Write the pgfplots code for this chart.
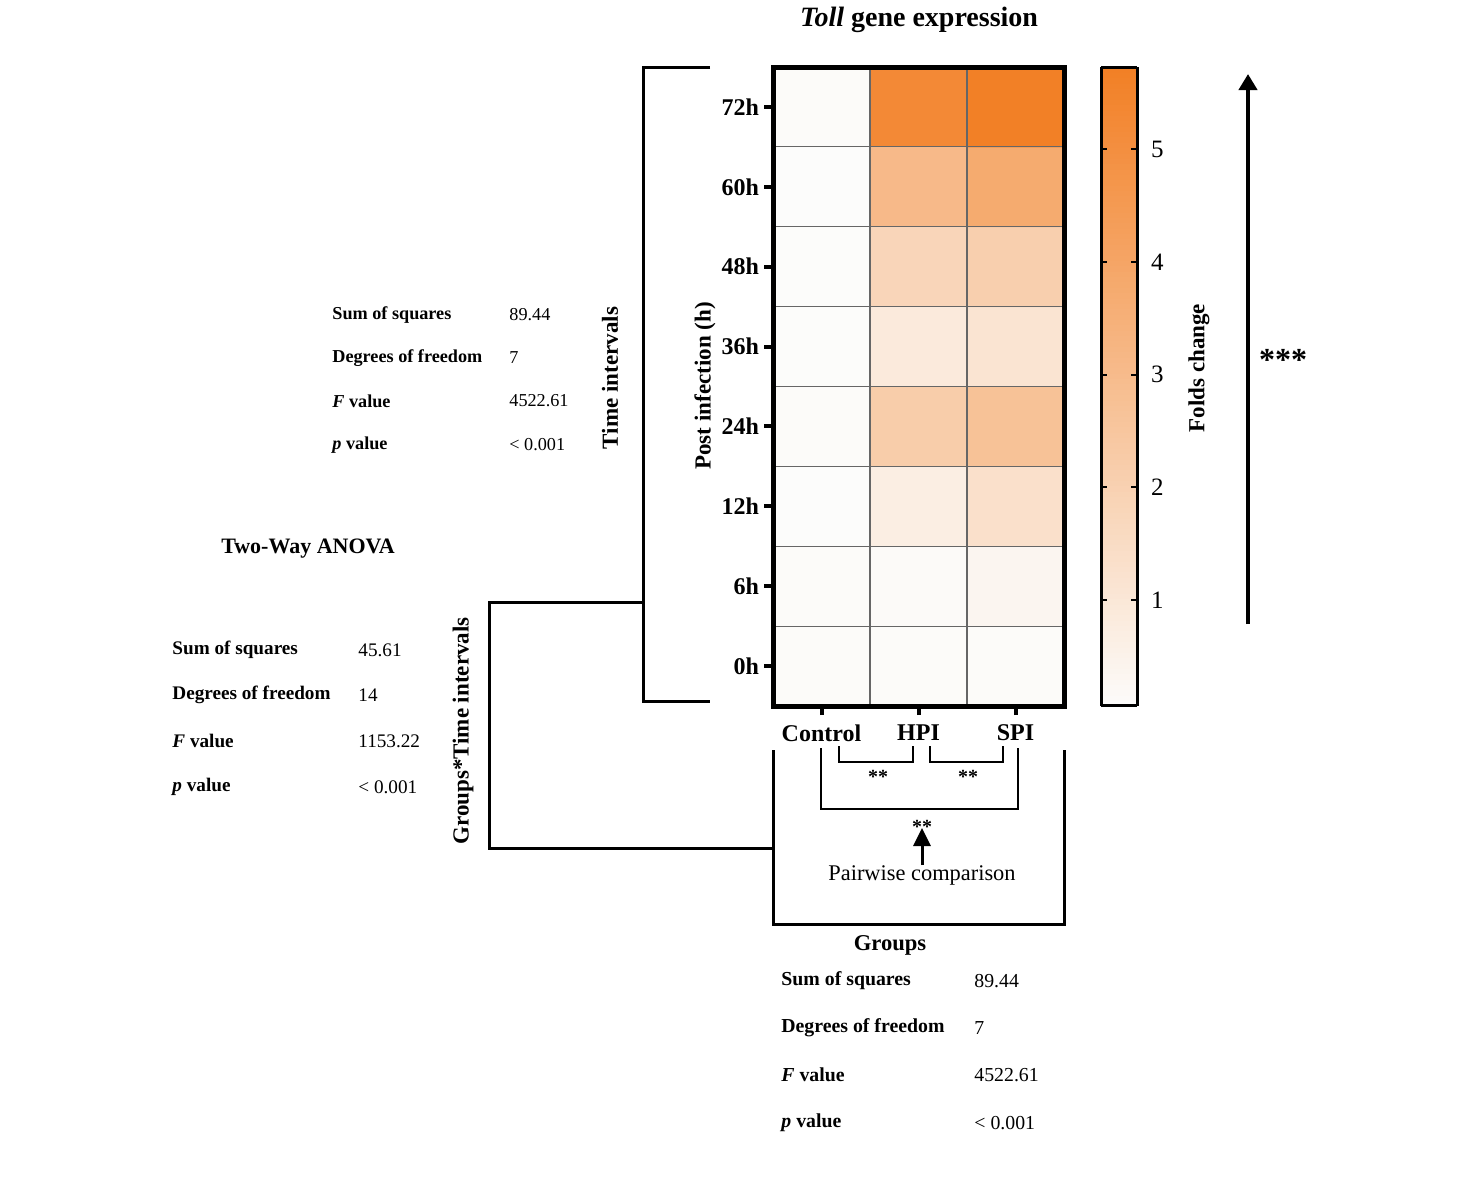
\documentclass[border=0pt]{standalone}
\usepackage{pgfplots}
\pgfplotsset{compat=1.18}
\usepackage{fontspec}
\setmainfont{Liberation Serif}
\usetikzlibrary{arrows.meta}
\newcommand{\fs}[1]{\fontsize{#1}{#1}\selectfont}
\begin{document}
\begin{tikzpicture}
\useasboundingbox (0,0) rectangle (736.5pt,-591.5pt);
\begin{axis}[
  at={(386.5pt,-353pt)}, anchor=south west,
  scale only axis, width=145.5pt, height=319.5pt,
  xmin=-0.5, xmax=2.5, ymin=-0.5, ymax=7.5,
  xtick={0,1,2}, xticklabels={Control,HPI,SPI},
  ytick={0,...,7}, yticklabels={0h,6h,12h,24h,36h,48h,60h,72h},
  ticklabel style={font=\fs{12}\bfseries},
  xticklabel style={yshift=-1.5pt},
  yticklabel style={xshift=1pt},
  tick align=outside, xtick pos=left, ytick pos=left,
  major tick length=4.5pt,
  every tick/.style={line width=2pt, black},
  axis line style={line width=2.5pt},
  minor xtick={0.5,1.5}, minor ytick={0.5,1.5,...,6.5},
  minor tick length=0pt,
  minor grid style={draw=black!60, line width=0.6pt},
  xminorgrids, yminorgrids,
  axis on top,
  colormap={or}{rgb255=(252,252,251) rgb255=(242,128,38)},
  point meta min=0.06, point meta max=5.73,
  colorbar sampled,
  colorbar style={
    at={(parent axis.north east)}, anchor=north west, xshift=10pt,
    width=18pt, samples=120,
    ytick={1,2,3,4,5},
    yticklabel style={font=\fs{12.5}, /pgf/number format/assume math mode=true, xshift=3.5pt},
    tick align=inside, ytick pos=both, yticklabel pos=right,
    major tick length=3pt,
    every tick/.style={line width=1pt,black},
    axis line style={line width=1.5pt},
  },
]
\addplot[matrix plot*, mesh/cols=3, point meta=explicit] table[meta=c]{
x y c
0 0 0.10
1 0 0.10
2 0 0.10
0 1 0.10
1 1 0.13
2 1 0.36
0 2 0.06
1 2 0.70
2 2 1.34
0 3 0.10
1 3 2.19
2 3 2.70
0 4 0.08
1 4 0.88
2 4 1.14
0 5 0.08
1 5 1.81
2 5 2.09
0 6 0.06
1 6 3.08
2 6 3.75
0 7 0.10
1 7 5.26
2 7 5.73
};
\end{axis}
\begin{scope}[x=0.5pt,y=-0.5pt]
\node[font=\fs{14}\bfseries] at (919,20) {\textit{Toll} gene expression};
% brackets
\draw[line width=1.5pt] (710,67) -- (643,67) -- (643,701) -- (710,701);
\draw[line width=1.5pt] (643,602) -- (489,602) -- (489,848) -- (773,848);
\draw[line width=1.5pt] (773,750) -- (773,924) -- (1064,924) -- (1064,750);
\draw[line width=1.2pt] (821,748) -- (821,809) -- (1018,809) -- (1018,748);
\draw[line width=1.2pt] (839,746) -- (839,762) -- (913,762) -- (913,746);
\draw[line width=1.2pt] (930,746) -- (930,762) -- (1003,762) -- (1003,746);
\node[font=\fs{10}\bfseries] at (878,777) {**};
\node[font=\fs{10}\bfseries] at (968,777) {**};
\node[font=\fs{10}\bfseries] at (922,827) {**};
\draw[line width=1.5pt, -{Triangle[length=9pt,width=8.5pt]}] (922,865) -- (922,828);
\node[font=\fs{11.2}] at (922,875) {Pairwise comparison};
\node[font=\fs{11.3}\bfseries] at (890,945) {Groups};
% big arrow
\draw[line width=2pt, -{Triangle[length=8pt,width=9pt]}] (1248,624) -- (1248,74);
\node[font=\fs{16}\bfseries] at (1283,360) {***};
% rotated labels
\node[rotate=90, font=\fs{11.5}\bfseries] at (610,378) {Time intervals};
\node[rotate=90, font=\fs{11.5}\bfseries] at (463,731) {Groups*Time intervals};
\node[rotate=90, font=\fs{11.5}\bfseries] at (705,386) {Post infection (h)};
\node[rotate=90, font=\fs{11.5}\bfseries] at (1199,368) {Folds change};
\node[font=\fs{11}\bfseries] at (308,549) {Two-Way ANOVA};
% tables
\begin{scope}[every node/.style={anchor=west, inner sep=0pt}]
\node[font=\fs{9.1}\bfseries] at (332,315) {Sum of squares};
\node[font=\fs{9.1}\bfseries] at (332,358) {Degrees of freedom};
\node[font=\fs{9.1}\bfseries] at (332,401) {\textit{F} value};
\node[font=\fs{9.1}\bfseries] at (332,445) {\textit{p} value};
\node[font=\fs{9.1}] at (509,315) {89.44};
\node[font=\fs{9.1}] at (509,358) {7};
\node[font=\fs{9.1}] at (509,401) {4522.61};
\node[font=\fs{9.1}] at (509,445) {< 0.001};
\node[font=\fs{9.6}\bfseries] at (172,650) {Sum of squares};
\node[font=\fs{9.6}\bfseries] at (172,695) {Degrees of freedom};
\node[font=\fs{9.6}\bfseries] at (172,741) {\textit{F} value};
\node[font=\fs{9.6}\bfseries] at (172,787) {\textit{p} value};
\node[font=\fs{9.6}] at (358,650) {45.61};
\node[font=\fs{9.6}] at (358,695) {14};
\node[font=\fs{9.6}] at (358,741) {1153.22};
\node[font=\fs{9.6}] at (358,787) {< 0.001};
\node[font=\fs{9.9}\bfseries] at (781,981) {Sum of squares};
\node[font=\fs{9.9}\bfseries] at (781,1028) {Degrees of freedom};
\node[font=\fs{9.9}\bfseries] at (781,1075) {\textit{F} value};
\node[font=\fs{9.9}\bfseries] at (781,1123) {\textit{p} value};
\node[font=\fs{9.9}] at (974,981) {89.44};
\node[font=\fs{9.9}] at (974,1028) {7};
\node[font=\fs{9.9}] at (974,1075) {4522.61};
\node[font=\fs{9.9}] at (974,1123) {< 0.001};
\end{scope}
\end{scope}
\end{tikzpicture}
\end{document}
